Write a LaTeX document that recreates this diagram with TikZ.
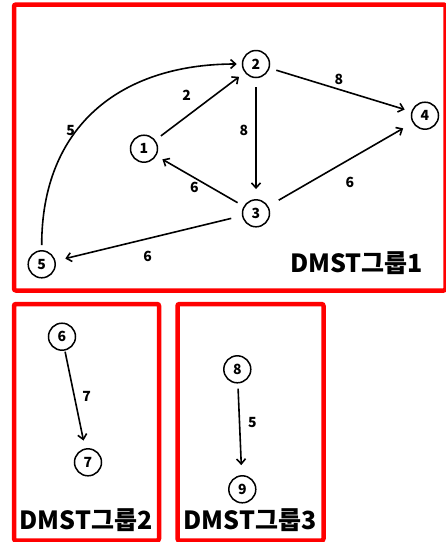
\documentclass[tikz,border=0pt]{standalone}
\usepackage{fontspec}
\setmainfont{Noto Sans CJK KR}
\usetikzlibrary{arrows.meta}
\tikzset{
  vtx/.style={circle,draw,line width=1.5pt,minimum size=27pt,inner sep=0pt,font=\fontsize{14}{14}\selectfont\bfseries},
  lbl/.style={inner sep=0pt,font=\fontsize{14}{14}\selectfont\bfseries},
  ttl/.style={inner sep=0pt,font=\fontsize{25}{25}\selectfont\bfseries},
  box/.style={draw=red,line width=4.5pt,rounded corners=2pt},
  arr/.style={line width=1.6pt,-{Straight Barb[length=5pt,width=9pt,line width=1.6pt]},shorten <=7pt,shorten >=7pt}
}
\begin{document}
\begin{tikzpicture}[x=1pt,y=-1pt]
\useasboundingbox (0,0) rectangle (446,542);
\fill[white] (0,0) rectangle (446,542);
\draw[box] (14,4.5) rectangle (445.5,290.5);
\draw[box] (14,304) rectangle (159,540.5);
\draw[box] (177.5,304) rectangle (323.5,540.5);

\node[vtx] (n1) at (144,148.7) {1};
\node[vtx] (n2) at (256,64) {2};
\node[vtx] (n3) at (256,213.3) {3};
\node[vtx] (n4) at (425,115.7) {4};
\node[vtx] (n5) at (41.7,264.3) {5};
\node[vtx] (n6) at (62,336.7) {6};
\node[vtx] (n7) at (88,462.3) {7};
\node[vtx] (n8) at (237.3,369.3) {8};
\node[vtx] (n9) at (242.3,489.3) {9};

\draw[arr] (n1) -- (n2);
\draw[arr,shorten <=9pt,shorten >=10pt] (n2) -- (n3);
\draw[arr] (n2) -- (n4);
\draw[arr] (n3) -- (n1);
\draw[arr,shorten <=12pt,shorten >=11pt] (n3) -- (n4);
\draw[arr,shorten <=11pt,shorten >=10pt] (n3.190) -- (n5);
\draw[arr,shorten <=5pt,shorten >=5pt] (n5) to[out=90,in=180,looseness=1.15] (n2);
\draw[arr,shorten <=1pt,shorten >=8pt] (n6) -- (n7);
\draw[arr,shorten <=5pt,shorten >=10pt] (n8) -- (n9);

\node[lbl] (l12) at (186.7,95) {2};
\node[lbl] (l23) at (244,130.7) {8};
\node[lbl] (l24) at (339,79) {8};
\node[lbl] (l31) at (194.3,187.7) {6};
\node[lbl] (l34) at (350,182.7) {6};
\node[lbl] (l35) at (147.7,256.7) {6};
\node[lbl] (l52) at (70.7,130.7) {5};
\node[lbl] (l67) at (86.7,396) {7};
\node[lbl] (l89) at (252.3,422.7) {5};

\node[ttl] (t1) at (356.5,263.3) {DMST그룹1};
\node[ttl] (t2) at (86,520) {DMST그룹2};
\node[ttl] (t3) at (250,520) {DMST그룹3};
\end{tikzpicture}
\end{document}
